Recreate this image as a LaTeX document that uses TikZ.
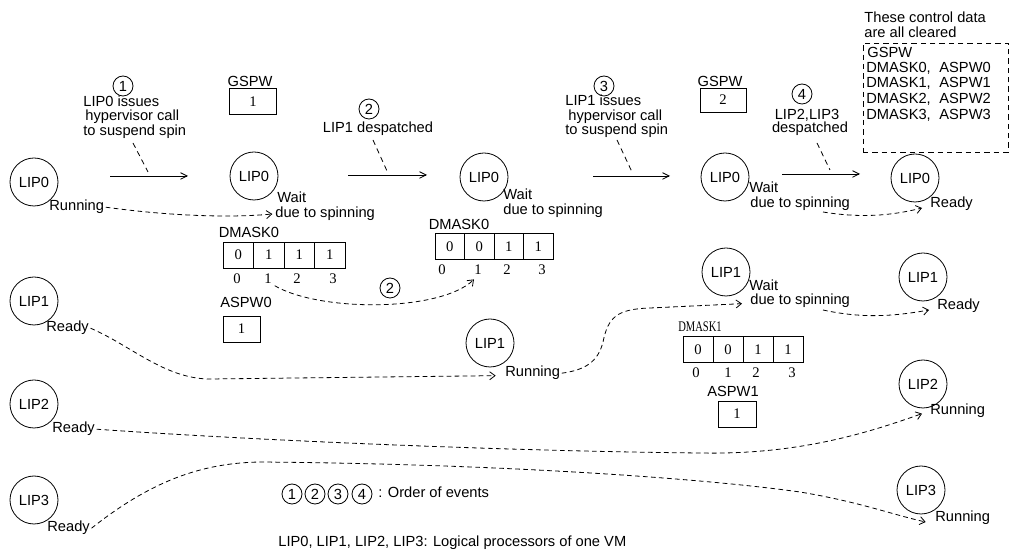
\documentclass[tikz,border=0pt]{standalone}
\usepackage{fontspec}
\setmainfont{Liberation Sans}
\newfontfamily\digs{Liberation Serif}
\newfontfamily\condserif[FakeStretch=0.72]{Liberation Serif}
\usetikzlibrary{arrows.meta}
\newcommand\myfs{\fontsize{11}{12}\selectfont}
\tikzset{
  lip/.style={circle, draw, minimum size=36pt, inner sep=0pt, font=\myfs},
  num/.style={circle, draw, minimum size=15pt, inner sep=0pt, font=\myfs},
  txt/.style={anchor=base west, inner sep=0pt, font=\myfs},
  ctxt/.style={anchor=base, inner sep=0pt, font=\myfs},
  cell/.style={draw, inner sep=0pt, font=\digs\myfs},
  idx/.style={anchor=base, inner sep=0pt, font=\digs\myfs},
  trans/.style={dash pattern=on 3.5pt off 2.5pt, -{Straight Barb[length=4pt,width=6pt]}},
  ptr/.style={dash pattern=on 4pt off 3pt},
  evarrow/.style={-{Straight Barb[length=5pt,width=5pt]}},
}
\begin{document}
\begin{tikzpicture}[x=0.75pt,y=-0.75pt,line width=0.6pt]
\useasboundingbox (0,0) rectangle (1011,555);

% processor circles
\node[lip] (c00) at (34,182) {LIP0};
\node[lip] (c01) at (254,176) {LIP0};
\node[lip] (c02) at (484,177) {LIP0};
\node[lip] (c03) at (725,177) {LIP0};
\node[lip] (c04) at (915,178) {LIP0};
\node[lip] (c10) at (34,301) {LIP1};
\node[lip] (c12) at (490,343) {LIP1};
\node[lip] (c13) at (726,272) {LIP1};
\node[lip] (c14) at (923,277) {LIP1};
\node[lip] (c20) at (34,404) {LIP2};
\node[lip] (c24) at (923,384) {LIP2};
\node[lip] (c30) at (34,500) {LIP3};
\node[lip] (c34) at (921,490) {LIP3};

% state labels
\node[txt] (s00) at (49,211) {Running};
\node[txt] (s01a) at (277,203) {Wait};
\node[txt] (s01b) at (275,218) {due to spinning};
\node[txt] (s02a) at (503,200) {Wait};
\node[txt] (s02b) at (503,215) {due to spinning};
\node[txt] (s03a) at (749,193) {Wait};
\node[txt] (s03b) at (750,208) {due to spinning};
\node[txt] (s04) at (930,208) {Ready};
\node[txt] (s10) at (46,332) {Ready};
\node[txt] (s12) at (505,377) {Running};
\node[txt] (s13a) at (749,291) {Wait};
\node[txt] (s13b) at (750,305) {due to spinning};
\node[txt] (s14) at (937,310) {Ready};
\node[txt] (s20) at (52,433) {Ready};
\node[txt] (s24) at (930,415) {Running};
\node[txt] (s30) at (47,532) {Ready};
\node[txt] (s34) at (935,522) {Running};

% event annotations
\node[num] (n1) at (123,86) {1};
\node[txt] (a1a) at (83,107) {LIP0 issues};
\node[txt] (a1b) at (85,121) {hypervisor call};
\node[txt] (a1c) at (83,136) {to suspend spin};
\coordinate (e1s) at (110,176); \coordinate (e1e) at (188,176);
\coordinate (p1s) at (133,143); \coordinate (p1e) at (148,172);
\draw[evarrow] (e1s) -- (e1e);
\draw[ptr] (p1s) -- (p1e);

\node[num] (n2) at (369,109) {2};
\node[ctxt] (a2) at (378,133) {LIP1 despatched};
\coordinate (e2s) at (348,175); \coordinate (e2e) at (427,175);
\coordinate (p2s) at (373,140); \coordinate (p2e) at (387,171);
\draw[evarrow] (e2s) -- (e2e);
\draw[ptr] (p2s) -- (p2e);

\node[num] (n3) at (604,86) {3};
\node[txt] (a3a) at (565,106) {LIP1 issues};
\node[txt] (a3b) at (568,121) {hypervisor call};
\node[txt] (a3c) at (565,135) {to suspend spin};
\coordinate (e3s) at (593,176); \coordinate (e3e) at (670,176);
\coordinate (p3s) at (617,140); \coordinate (p3e) at (632,172);
\draw[evarrow] (e3s) -- (e3e);
\draw[ptr] (p3s) -- (p3e);

\node[num] (n4) at (802,94) {4};
\node[ctxt] (a4a) at (807,120) {LIP2,LIP3};
\node[ctxt] (a4b) at (810,133) {despatched};
\coordinate (e4s) at (782,174); \coordinate (e4e) at (860,174);
\coordinate (p4s) at (817,143); \coordinate (p4e) at (830,170);
\draw[evarrow] (e4s) -- (e4e);
\draw[ptr] (p4s) -- (p4e);

% GSPW boxes
\node[ctxt] (g1l) at (250,87) {GSPW};
\node[cell, minimum width=35pt, minimum height=19pt] (g1) at (253,101.5) {1};
\node[ctxt] (g2l) at (720,87) {GSPW};
\node[cell, minimum width=34.5pt, minimum height=18pt] (g2) at (723,100) {2};

% cleared box
\node[txt] (cl1) at (864,23) {These control data};
\node[txt] (cl2) at (864,38) {are all cleared};
\node[draw, ptr, minimum width=108.75pt, minimum height=81.75pt, inner sep=0pt] (cbox) at (935.5,97.5) {};
\node[txt] (cg) at (867,58) {GSPW};
\node[txt] (cd0) at (866,73) {DMASK0,};
\node[txt] (ca0) at (939,73) {ASPW0};
\node[txt] (cd1) at (866,88) {DMASK1,};
\node[txt] (ca1) at (939,88) {ASPW1};
\node[txt] (cd2) at (866,104) {DMASK2,};
\node[txt] (ca2) at (939,104) {ASPW2};
\node[txt] (cd3) at (866,120) {DMASK3,};
\node[txt] (ca3) at (939,120) {ASPW3};

% DMASK0 (first)
\node[ctxt] (t0l) at (249,238) {DMASK0};
\foreach \v [count=\i from 0] in {0,1,1,1}
  \node[cell, minimum width=22.9pt, minimum height=19.5pt] (t0c\i) at ({238.25+30.5*\i},255) {\v};
\foreach \x [count=\i from 0] in {237,268,297,333}
  \node[idx] (t0i\i) at (\x,284) {\i};
\node[ctxt] (w0l) at (246,308) {ASPW0};
\node[cell, minimum width=27.75pt, minimum height=19.5pt] (w0) at (241.5,329) {1};

% DMASK0 (second)
\node[ctxt] (t1l) at (459,230) {DMASK0};
\foreach \v [count=\i from 0] in {0,0,1,1}
  \node[cell, minimum width=22.1pt, minimum height=20pt] (t1c\i) at ({449.75+29.5*\i},246.5) {\v};
\foreach \x [count=\i from 0] in {442,478,507,542}
  \node[idx] (t1i\i) at (\x,275) {\i};

% DMASK1
\node[anchor=base, inner sep=0pt, font=\condserif\myfs] (t2l) at (700,332) {DMASK1};
\foreach \v [count=\i from 0] in {0,0,1,1}
  \node[cell, minimum width=22.5pt, minimum height=20pt] (t2c\i) at ({698+30*\i},349.5) {\v};
\foreach \x [count=\i from 0] in {696,728,756,792}
  \node[idx] (t2i\i) at (\x,378) {\i};
\node[ctxt] (w1l) at (733,397) {ASPW1};
\node[cell, minimum width=28.5pt, minimum height=19.5pt] (w1) at (737,414) {1};

% event 2 link between the masks
\node[num] (n2b) at (390,288) {2};
\draw[trans] ([xshift=2pt,yshift=-1pt]t0i1.south east) .. controls (320,312) and (440,312) .. ([xshift=-3pt,yshift=-3pt]t1i1.south);

% state transitions
\draw[trans] ([xshift=1pt]s00.east) .. controls (170,216) and (230,218) .. ([xshift=-2pt,yshift=3pt]s01b.base west);
\draw[trans] (823,212) .. controls (860,218) and (890,216) .. ([xshift=-6pt,yshift=0pt]s04.base west);
\draw[trans] ([xshift=1pt]s10.east) .. controls (130,345) and (165,379) .. (210,379) -- ([xshift=-7pt,yshift=1pt]s12.base west);
\draw[trans] ([xshift=1pt]s12.east) .. controls (585,370) and (598,362) .. (603,342) .. controls (608,318) and (616,309) .. (650,308) -- ([xshift=-6pt,yshift=1pt]s13b.base west);
\draw[trans] (823,310) .. controls (860,318) and (890,317) .. ([xshift=-6pt]s14.base west);
\draw[trans] ([xshift=1pt]s20.east) .. controls (250,440) and (500,451) .. (700,453) .. controls (800,455) and (870,432) .. ([xshift=-6pt,yshift=1pt]s24.base west);
\draw[trans] ([xshift=1pt]s30.east) .. controls (150,482) and (200,463) .. (260,462) .. controls (500,464) and (700,478) .. (800,492) .. controls (860,502) and (890,514) .. ([xshift=-7pt]s34.base west);

% legend
\node[num] (l1) at (292,494) {1};
\node[num] (l2) at (315,494) {2};
\node[num] (l3) at (338,494) {3};
\node[num] (l4) at (362,494) {4};
\node[txt] (lt) at (378,498) {: Order of events};
\node[txt] (lb) at (278,547) {LIP0, LIP1, LIP2, LIP3: Logical processors of one VM};
\end{tikzpicture}
\end{document}
